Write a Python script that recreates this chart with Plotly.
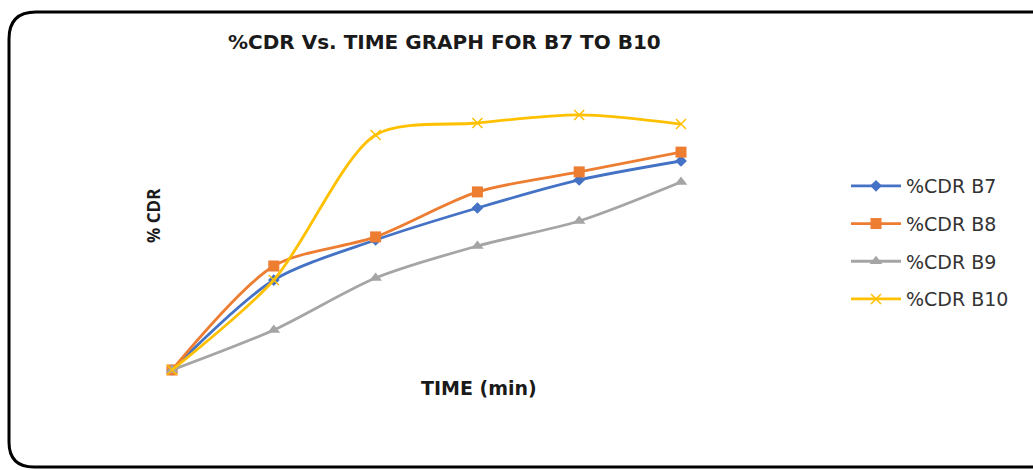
import plotly.graph_objects as go

time_min = [0, 15, 30, 45, 60, 75]
cdr_b7 = [0, 34.6, 50.0, 62.3, 73.1, 80.4]
cdr_b8 = [0, 40.0, 51.2, 68.5, 76.2, 83.8]
cdr_b9 = [0, 15.4, 35.4, 47.7, 57.3, 72.3]
cdr_b10 = [0, 34.6, 90.4, 95.0, 98.1, 94.6]

W, H = 1033, 470
L, R, T, B = 172, 352, 110, 100

series = [
    ("%CDR B7", cdr_b7, "#4472C4", "diamond", 9),
    ("%CDR B8", cdr_b8, "#ED7D31", "square", 11),
    ("%CDR B9", cdr_b9, "#A5A5A5", "triangle-up", 11),
    ("%CDR B10", cdr_b10, "#FFC000", "x-thin", 10),
]

fig = go.Figure()
for i, (name, ys, col, sym, sz) in enumerate(series):
    fig.add_trace(go.Scatter(
        x=time_min, y=ys, name=name, mode="lines+markers",
        line=dict(color=col, width=2.8, shape="spline", smoothing=0.8),
        marker=dict(symbol=sym, size=sz, color=col,
                    line=dict(color=col, width=1.5 if sym == "x-thin" else 0)),
        cliponaxis=False, legendgroup=f"g{i}",
    ))

def px(x):
    return (x - L) / (W - L - R)

def py(y):
    return (H - B - y) / (H - T - B)

path = (f"M {px(1045)} {py(12)} L {px(36)} {py(12)} Q {px(9)} {py(12)} {px(9)} {py(39)} "
        f"L {px(9)} {py(442)} Q {px(9)} {py(467)} {px(34)} {py(467)} L {px(1045)} {py(467)}")

fig.update_layout(
    width=W, height=H,
    margin=dict(l=L, r=R, t=T, b=B),
    paper_bgcolor="white", plot_bgcolor="white",
    font=dict(family="DejaVu Sans", color="#222"),
    xaxis=dict(range=[0, 75], visible=False),
    yaxis=dict(range=[0, 100], visible=False),
    showlegend=True,
    legend=dict(x=px(846), y=py(167), xanchor="left", yanchor="top",
                font=dict(size=19, color="#333", family="DejaVu Sans"),
                itemwidth=50, tracegroupgap=10, bgcolor="rgba(0,0,0,0)"),
    shapes=[dict(type="path", xref="paper", yref="paper", path=path,
                 line=dict(color="black", width=3))],
    annotations=[
        dict(text="<b>%CDR Vs. TIME GRAPH FOR B7 TO B10</b>", xref="paper", yref="paper",
             x=px(444), y=py(42), xanchor="center", yanchor="middle", showarrow=False,
             font=dict(size=20, color="#1a1a1a", family="DejaVu Sans")),
        dict(text="<b>% CDR</b>", xref="paper", yref="paper", textangle=-90,
             x=px(153), y=py(216), xanchor="center", yanchor="middle", showarrow=False,
             font=dict(size=17, color="#1a1a1a", family="Open Sans")),
        dict(text="<b>TIME (min)</b>", xref="paper", yref="paper",
             x=px(479), y=py(388), xanchor="center", yanchor="middle", showarrow=False,
             font=dict(size=19, color="#1a1a1a", family="DejaVu Sans")),
    ],
)

fig.write_html("out.html")
